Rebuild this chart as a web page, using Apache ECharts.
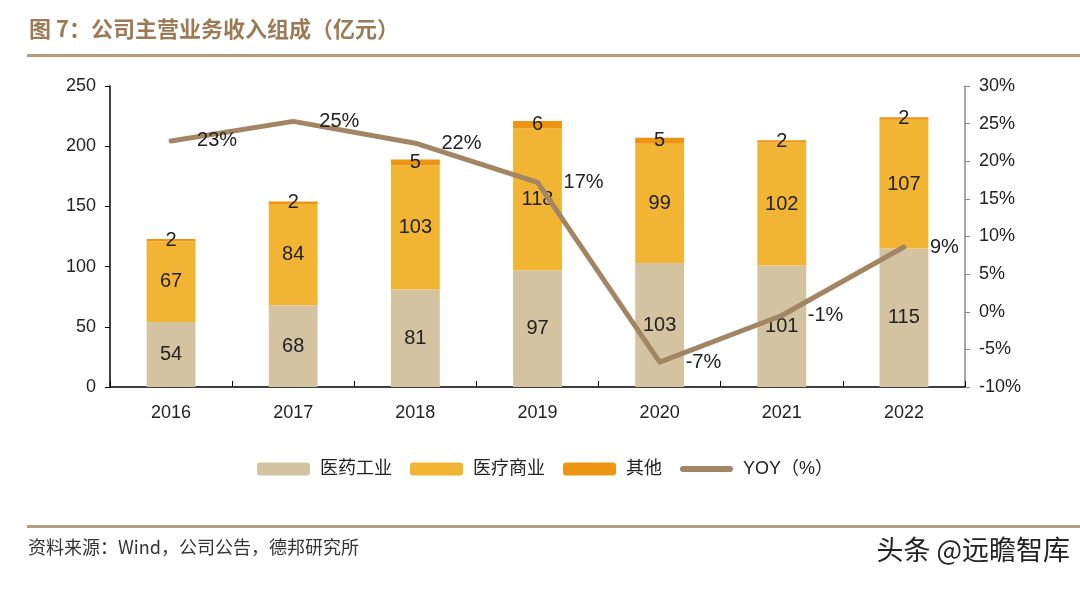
<!DOCTYPE html>
<html>
<head>
<meta charset="utf-8">
<script src="https://cdn.jsdelivr.net/npm/echarts@6/dist/echarts.min.js"></script>
<style>
html,body{margin:0;padding:0;background:#fff;}
#c{width:1080px;height:590px;}
</style>
</head>
<body>
<div id="c"></div>
<script>
const categories = ['2016','2017','2018','2019','2020','2021','2022'];
const pharmaIndustry = [54, 68, 81, 97, 103, 101, 115];
const pharmaCommerce = [67, 84, 103, 118, 99, 102, 107];
const others = [2, 2, 5, 6, 5, 2, 2];
const yoy = [22.7, 25.3, 22.4, 17.2, -6.7, -0.5, 8.6];
const yoyLabels = ['23%', '25%', '22%', '17%', '-7%', '-1%', '9%'];

const FONT = 'Arial, "Liberation Sans", "Noto Sans CJK SC", sans-serif';

const chart = echarts.init(document.getElementById('c'), null, {renderer: 'canvas'});

const barLabel = {show: true, position: 'inside', color: '#222', fontSize: 20, fontFamily: FONT};

chart.setOption({
  animation: false,
  backgroundColor: '#fff',
  textStyle: {fontFamily: FONT},
  graphic: [
    {type: 'text', left: 29, top: 18, style: {text: '图 7：公司主营业务收入组成（亿元）', fill: '#9c7a55', font: 'bold 22px "Noto Sans CJK SC", sans-serif'}},
    {type: 'rect', shape: {x: 27, y: 54, width: 1053, height: 3}, style: {fill: '#b49c7c'}},
    {type: 'rect', shape: {x: 27, y: 525, width: 1053, height: 3}, style: {fill: '#b49c7c'}},
    {type: 'text', left: 28, top: 538, style: {text: '资料来源：Wind，公司公告，德邦研究所', fill: '#333', font: '18px "Noto Sans CJK SC", sans-serif'}},
    {type: 'text', right: 10, top: 536, style: {text: '头条 @远瞻智库', fill: '#222', font: '27px "Noto Sans CJK SC", sans-serif'}}
  ],
  legend: {
    top: 455,
    left: 252,
    itemWidth: 53,
    itemHeight: 13,
    itemGap: 18,
    textStyle: {fontSize: 18, color: '#222', fontFamily: FONT, padding: [0, 0, 0, 5]},
    data: [
      {name: '医药工业'},
      {name: '医疗商业'},
      {name: '其他'},
      {name: 'YOY（%）', icon: 'path://M3,0 L50,0 A3,3 0 0 1 50,6 L3,6 A3,3 0 0 1 3,0 Z', itemStyle: {color: '#a28562'}}
    ]
  },
  grid: {left: 110, right: 115, top: 86, bottom: 203, containLabel: false},
  xAxis: {
    type: 'category',
    data: categories,
    axisLine: {lineStyle: {color: '#000', width: 1.5}},
    axisTick: {show: true, inside: true, length: 6, lineStyle: {color: '#000'}},
    axisLabel: {fontSize: 18, color: '#222', margin: 17, fontFamily: FONT}
  },
  yAxis: [
    {
      type: 'value', min: 0, max: 250, interval: 50,
      splitLine: {show: false},
      axisLine: {show: true, lineStyle: {color: '#000', width: 1.5}},
      axisTick: {show: true, length: 5, lineStyle: {color: '#000'}},
      axisLabel: {fontSize: 18, color: '#222', margin: 14, fontFamily: FONT}
    },
    {
      type: 'value', min: -10, max: 30, interval: 5, position: 'right',
      splitLine: {show: false},
      axisLine: {show: true, lineStyle: {color: '#888', width: 1.5}},
      axisTick: {show: true, length: 5, lineStyle: {color: '#888'}},
      axisLabel: {fontSize: 18, color: '#222', margin: 14, fontFamily: FONT, formatter: '{value}%'}
    }
  ],
  series: [
    {name: '医药工业', type: 'bar', stack: 'a', data: pharmaIndustry, barWidth: '40%', itemStyle: {color: '#d3c3a1'}, label: barLabel},
    {name: '医疗商业', type: 'bar', stack: 'a', data: pharmaCommerce, itemStyle: {color: '#f2b533'}, label: barLabel},
    {name: '其他', type: 'bar', stack: 'a', data: others, itemStyle: {color: '#ee9413'}, label: barLabel},
    {
      name: 'YOY（%）', type: 'line', yAxisIndex: 1, data: yoy, symbol: 'circle', symbolSize: 0.1, showSymbol: true, z: 5,
      lineStyle: {color: '#a28562', width: 5, cap: 'round', join: 'round'},
      itemStyle: {color: '#a28562'},
      labelLayout: {hideOverlap: false},
      label: {show: true, position: 'right', distance: 26, color: '#222', fontSize: 20, fontFamily: FONT,
        formatter: p => yoyLabels[p.dataIndex]}
    }
  ]
});
</script>
</body>
</html>
